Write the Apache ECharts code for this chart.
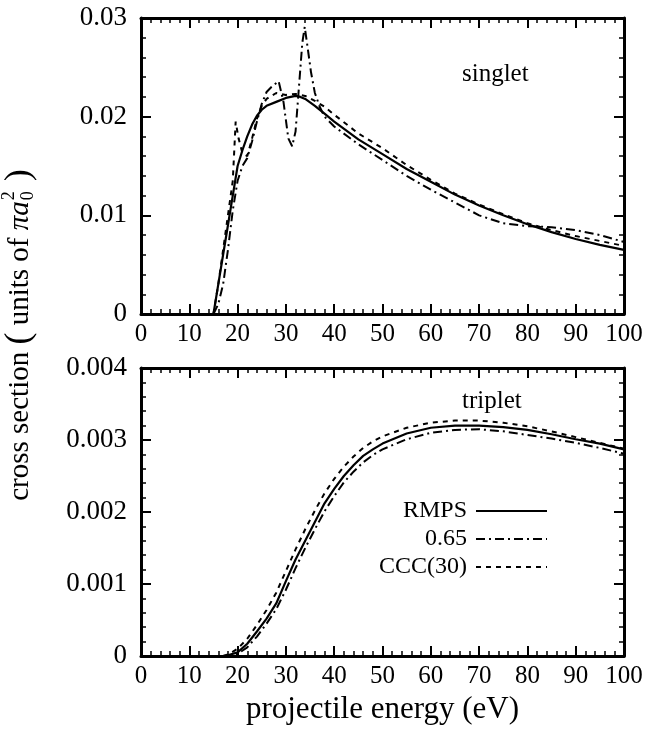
<!DOCTYPE html>
<html><head><meta charset="utf-8">
<script src="https://cdn.jsdelivr.net/npm/echarts@6/dist/echarts.min.js"></script>
<style>html,body{margin:0;padding:0;background:#fff}#c{width:650px;height:743px}</style>
</head><body><div id="c"></div>
<script>
// ---- singlet (top panel) ----
const sRmpsE = [15,16,17,18,19,20,21,22,23,24,25,26,28,30,32,33,34,36,38,40,45,50,55,60,65,70,75,80,85,90,95,100];
const sRmpsV = [0,0.003,0.006,0.009,0.012,0.0150,0.0166,0.0180,0.0192,0.0201,0.0207,0.0211,0.0215,0.0219,0.0221,0.0220,0.0218,0.0211,0.0203,0.0195,0.0177,0.0162,0.0147,0.0134,0.0121,0.0110,0.0100,0.0091,0.0083,0.0076,0.0070,0.0065];
const s065E = [15,16,17,18,19,20,21,22,23,24,25,26,27,28.5,29.5,30.5,31.3,32,32.7,33.4,33.9,34.5,35.2,36,37,38,40,45,50,55,60,65,70,75,80,85,90,95,100];
const s065V = [0,0.001,0.003,0.0065,0.0105,0.0135,0.0150,0.0158,0.0175,0.0195,0.0213,0.0225,0.0230,0.0236,0.0215,0.0178,0.0170,0.0185,0.0230,0.0275,0.0291,0.0270,0.0245,0.0224,0.0210,0.0200,0.0190,0.0172,0.0156,0.0140,0.0126,0.0113,0.0100,0.0092,0.0089,0.0088,0.0085,0.0080,0.0073];
const sCccE = [15,16,17,18,19,19.6,20.2,21,22,23,24,25,26,28,30,32,34,36,38,40,45,50,55,60,65,70,75,80,85,90,95,100];
const sCccV = [0,0.003,0.0065,0.010,0.0135,0.0195,0.0178,0.0163,0.0160,0.0178,0.0198,0.0211,0.0218,0.0224,0.0222,0.0223,0.0221,0.0216,0.0210,0.0202,0.0183,0.0168,0.0151,0.0136,0.0122,0.0111,0.0101,0.0092,0.0085,0.0079,0.0074,0.0069];
// ---- triplet (bottom panel) ----
const tE = [17,18,20,22,24,26,28,30,32,34,36,38,40,42,44,46,48,50,55,60,65,70,75,80,85,90,95,100];
const tRmpsV = [0,0.00001,0.00005,0.00017,0.00034,0.00052,0.00073,0.00104,0.00134,0.00160,0.00186,0.00212,0.00232,0.00250,0.00265,0.00278,0.00287,0.00295,0.00309,0.00317,0.00320,0.00320,0.00318,0.00314,0.00308,0.00301,0.00295,0.00287];
const t065V = [0,0,0.00003,0.00012,0.00027,0.00045,0.00065,0.00092,0.00122,0.00150,0.00176,0.00201,0.00222,0.00241,0.00256,0.00269,0.00279,0.00287,0.00301,0.00310,0.00314,0.00315,0.00312,0.00307,0.00302,0.00296,0.00289,0.00281];
const tCccV = [0,0.00002,0.0001,0.00024,0.00043,0.00064,0.00088,0.00118,0.00148,0.00176,0.00202,0.00226,0.00246,0.00263,0.00277,0.00289,0.00298,0.00305,0.00317,0.00324,0.00327,0.00327,0.00324,0.00319,0.00312,0.00304,0.00296,0.00288];

const seriesNames = ['RMPS','0.65','CCC(30)'];
const panelLabels = ['singlet','triplet'];
const xTitle = 'projectile energy (eV)';

const FONT = '"Liberation Serif","Times New Roman",serif';
const pair = (xs, ys) => xs.map((x, i) => [x, ys[i]]);
const LS = {
  'RMPS': {type:'solid', width:2.2},
  '0.65': {type:[9,4,2,4], width:2},
  'CCC(30)': {type:[5,5], width:2}
};

function xAx(grid, pos, showLabel, name) {
  return {
    type:'value', gridIndex:grid, position:pos, min:0, max:100, interval:10,
    name: name || '', nameLocation:'middle', nameGap:38,
    nameTextStyle:{color:'#000', fontSize:31, fontFamily:FONT},
    axisLine:{show:true, onZero:false, lineStyle:{color:'#000', width:3}},
    axisTick:{show:true, inside:true, length:10, lineStyle:{color:'#000', width:2}},
    minorTick:{show:true, splitNumber:5, length:5, lineStyle:{color:'#000', width:1.5}},
    splitLine:{show:false}, minorSplitLine:{show:false},
    axisLabel:{show:showLabel, color:'#000', fontSize:25, fontFamily:FONT, margin:8}
  };
}
function yAx(grid, pos, showLabel, max, interval, digits) {
  return {
    type:'value', gridIndex:grid, position:pos, min:0, max:max, interval:interval,
    axisLine:{show:true, onZero:false, lineStyle:{color:'#000', width:3}},
    axisTick:{show:true, inside:true, length:10, lineStyle:{color:'#000', width:2}},
    minorTick:{show:true, splitNumber:5, length:5, lineStyle:{color:'#000', width:1.5}},
    splitLine:{show:false}, minorSplitLine:{show:false},
    axisLabel:{show:showLabel, color:'#000', fontSize:27, fontFamily:FONT, margin:14,
      formatter: v => v === 0 ? '0' : v.toFixed(digits)}
  };
}
function ser(name, xi, yi, data) {
  return {type:'line', name:name, xAxisIndex:xi, yAxisIndex:yi, data:data,
    symbol:'none', showSymbol:false, smooth:false, animation:false,
    lineStyle:Object.assign({color:'#000'}, LS[name]), itemStyle:{color:'#000'}};
}

// y-axis title, built as rotated group with stacked sub/superscript
const cv = document.createElement('canvas').getContext('2d');
function tw(t, size, st) { cv.font = (st||'normal') + ' ' + size + 'px ' + FONT; return cv.measureText(t).width; }
const pieces = [
  {t:'cross section ', s:29},
  {t:'(', s:36},
  {t:' units of ', s:29},
  {t:'\u03c0', s:29, st:'italic'},
  {t:'a', s:29, st:'italic'},
  {stack:true, sub:'0', sup:'2', s:18},
  {t:' )', s:36}
];
let W = 0;
pieces.forEach(p => { p.w = p.stack ? Math.max(tw(p.sub,p.s), tw(p.sup,p.s)) + 2 : tw(p.t, p.s, p.st); W += p.w; });
let cx = -W/2;
const yTitleChildren = [];
pieces.forEach(p => {
  const base = {fill:'#000', fontFamily:FONT, fontSize:p.s, fontStyle:p.st||'normal', align:'left', verticalAlign:'middle'};
  if (p.stack) {
    yTitleChildren.push({type:'text', style:Object.assign({}, base, {text:p.sub, x:cx+1, y:8})});
    yTitleChildren.push({type:'text', style:Object.assign({}, base, {text:p.sup, x:cx+1, y:-11})});
  } else {
    yTitleChildren.push({type:'text', style:Object.assign({}, base, {text:p.t, x:cx, y:0})});
  }
  cx += p.w;
});

const chart = echarts.init(document.getElementById('c'), null, {renderer:'canvas'});
chart.setOption({
  backgroundColor:'#fff',
  animation:false,
  grid:[
    {left:141, right:26, top:18, height:296},
    {left:141, right:26, top:368, height:288}
  ],
  xAxis:[ xAx(0,'bottom',true), xAx(0,'top',false), xAx(1,'bottom',true,xTitle), xAx(1,'top',false) ],
  yAxis:[ yAx(0,'left',true,0.03,0.01,2), yAx(0,'right',false,0.03,0.01,2),
          yAx(1,'left',true,0.004,0.001,3), yAx(1,'right',false,0.004,0.001,3) ],
  legend:{
    data:seriesNames, orient:'vertical', align:'right', right:97, top:494,
    itemWidth:71, itemHeight:14, itemGap:4, selectedMode:false,
    itemStyle:{opacity:0, borderWidth:0},
    textStyle:{color:'#000', fontSize:24, fontFamily:FONT, padding:[0,4,0,0]}
  },
  graphic:[
    {type:'text', left:462, top:62, style:{text:panelLabels[0], fill:'#000', fontSize:25, fontFamily:FONT}},
    {type:'text', left:462, top:389, style:{text:panelLabels[1], fill:'#000', fontSize:25, fontFamily:FONT}},
    {type:'group', x:20, y:335, rotation:Math.PI/2, children:yTitleChildren}
  ],
  series:[
    ser('RMPS',0,0,pair(sRmpsE,sRmpsV)),
    ser('0.65',0,0,pair(s065E,s065V)),
    ser('CCC(30)',0,0,pair(sCccE,sCccV)),
    ser('RMPS',2,2,pair(tE,tRmpsV)),
    ser('0.65',2,2,pair(tE,t065V)),
    ser('CCC(30)',2,2,pair(tE,tCccV))
  ]
});
</script></body></html>
